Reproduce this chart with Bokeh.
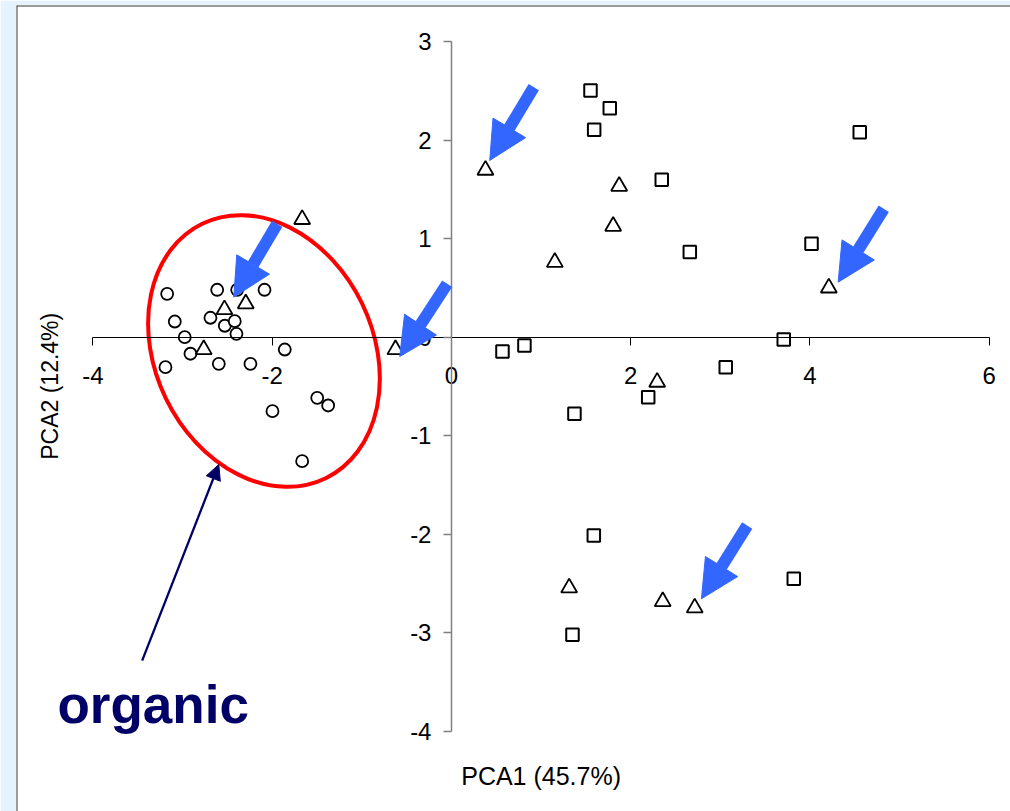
from bokeh.plotting import figure
from bokeh.models import (LinearAxis, FixedTicker, Range1d, Arrow, NormalHead,
                          Label, Span, ColumnDataSource)
from bokeh.embed import file_html
from bokeh.resources import INLINE

# PCA scores, one pair of lists per sample group
circle_x = [-3.172, -2.614, -2.391, -2.086, -3.087, -2.689, -2.529, -2.418, -2.399,
            -2.976, -2.912, -3.191, -2.596, -2.243, -1.860, -1.498, -1.376, -1.997,
            -1.666]
circle_y = [0.440, 0.481, 0.481, 0.481, 0.159, 0.197, 0.116, 0.162, 0.034,
            0.000, -0.168, -0.304, -0.270, -0.270, -0.125, -0.615, -0.693, -0.751,
            -1.258]

triangle_x = [-1.666, -2.533, -2.295, -2.764, -0.625, 0.379, 1.871, 1.804, 1.153,
              4.210, 2.295, 1.313, 2.357, 2.714]
triangle_y = [1.195, 0.280, 0.340, -0.125, -0.125, 1.695, 1.532, 1.126, 0.760,
              0.500, -0.456, -2.543, -2.682, -2.746]

square_x = [1.551, 1.766, 1.592, 2.346, 2.659, 4.555, 4.017, 3.707, 3.060, 0.569,
            0.814, 2.195, 1.372, 1.588, 1.350, 3.819]
square_y = [2.503, 2.323, 2.104, 1.597, 0.864, 2.080, 0.948, -0.023, -0.304, -0.145,
            -0.084, -0.609, -0.777, -2.012, -3.019, -2.451]

x_ticks = [-4, -2, 0, 2, 4, 6]
y_ticks = [-4, -3, -2, -1, 0, 1, 2, 3]
x_title = "PCA1 (45.7%)"
y_title = "PCA2 (12.4%)"
group_note = "organic"

# arrows pointing at the highlighted samples (tail -> head)
hl_x_start = [0.918, -1.945, -0.048, 4.823, 3.299]
hl_y_start = [2.536, 1.150, 0.542, 1.303, -1.910]
hl_x_end = [0.427, -2.429, -0.577, 4.314, 2.789]
hl_y_end = [1.793, 0.406, -0.196, 0.558, -2.654]

# outline around the organic cluster
cluster_cx, cluster_cy = -2.092, -0.140
cluster_w, cluster_h, cluster_angle = 2.432, 2.871, 0.452

BLUE = "#3366FF"
NAVY = "#000066"
FONT = "Liberation Sans"
X0, X1, Y0, Y1 = -4.853, 6.237, -4.812, 3.365

p = figure(width=1010, height=811,
           x_range=Range1d(X0, X1), y_range=Range1d(Y0, Y1),
           x_axis_type=None, y_axis_type=None,
           output_backend="svg", toolbar_location=None,
           min_border_left=16, min_border_top=5,
           min_border_right=0, min_border_bottom=0)
p.background_fill_color = "white"
p.border_fill_color = "#E6F3FE"
p.outline_line_color = None

# panel edge on the left and top only
p.add_layout(Span(location=X0, dimension="height", line_color="#3A3A3A", line_width=2))
p.add_layout(Span(location=Y1, dimension="width", line_color="#3A3A3A", line_width=2))

# axes crossing at the origin
xaxis = LinearAxis(fixed_location=0, bounds=(-4, 6), ticker=FixedTicker(ticks=x_ticks))
yaxis = LinearAxis(fixed_location=0, bounds=(-4, 3), ticker=FixedTicker(ticks=y_ticks))
for ax, ticks in ((xaxis, x_ticks), (yaxis, y_ticks)):
    ax.major_label_overrides = {t: str(t) for t in ticks}
    ax.major_tick_in = 0
    ax.major_tick_out = 8
    ax.minor_tick_line_color = None
    ax.major_label_text_font = FONT
    ax.major_label_text_font_size = "24px"
    ax.major_label_text_color = "black"
xaxis.axis_line_color = "black"
xaxis.major_tick_line_color = "black"
xaxis.major_label_standoff = 22
yaxis.axis_line_color = "#808080"
yaxis.axis_line_width = 1.5
yaxis.major_tick_line_color = "#808080"
yaxis.major_tick_line_width = 1.5
yaxis.major_label_standoff = 12
p.add_layout(xaxis, "below")
p.add_layout(yaxis, "left")

# sample groups
p.scatter(circle_x, circle_y, marker="circle", size=12, fill_color="white",
          line_color="black", line_width=1.8)
p.scatter(triangle_x, triangle_y, marker="triangle", size=16, fill_color="white",
          line_color="black", line_width=1.8)
p.scatter(square_x, square_y, marker="square", size=12.5, fill_color="white",
          line_color="black", line_width=2)

p.ellipse(x=[cluster_cx], y=[cluster_cy], width=[cluster_w], height=[cluster_h],
          angle=[cluster_angle], fill_color=None, line_color="#FF0000", line_width=4)

hl_src = ColumnDataSource(dict(x0=hl_x_start, y0=hl_y_start, x1=hl_x_end, y1=hl_y_end))
p.add_layout(Arrow(source=hl_src, x_start="x0", y_start="y0", x_end="x1", y_end="y1",
                   line_color=BLUE, line_width=12,
                   end=NormalHead(size=38, fill_color=BLUE, line_color=BLUE, line_width=1)))

# cluster annotation
p.add_layout(Arrow(x_start=-3.451, y_start=-3.281, x_end=-2.596, y_end=-1.292,
                   line_color=NAVY, line_width=2.3,
                   end=NormalHead(size=15, fill_color=NAVY, line_color=NAVY, line_width=1)))
p.add_layout(Label(x=-4.396, y=-3.725, text=group_note, text_font=FONT,
                   text_font_style="bold", text_font_size="53px", text_color=NAVY,
                   text_align="left", text_baseline="alphabetic"))

# axis titles
p.add_layout(Label(x=1.0, y=-4.452, text=x_title, text_font=FONT,
                   text_font_size="25px", text_color="black",
                   text_align="center", text_baseline="alphabetic"))
p.add_layout(Label(x=-4.474, y=-0.498, text=y_title, text_font=FONT, angle=1.5708,
                   text_font_size="23px", text_color="black",
                   text_align="center", text_baseline="alphabetic"))

open("out.html", "w").write(file_html(p, INLINE))
